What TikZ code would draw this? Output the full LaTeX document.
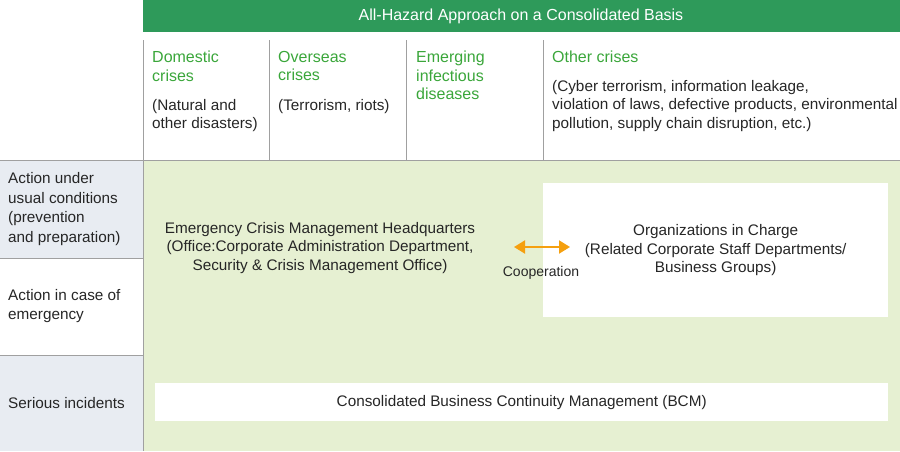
\documentclass[tikz,border=0pt]{standalone}
\usepackage{fontspec}
\setmainfont{Liberation Sans}
\usetikzlibrary{arrows.meta}
\definecolor{banner}{HTML}{2E9A5A}
\definecolor{gtext}{HTML}{3AA63A}
\definecolor{lgreen}{HTML}{E6F0D2}
\definecolor{lblue}{HTML}{E8ECF2}
\definecolor{lin}{HTML}{A0A0A0}
\definecolor{orng}{HTML}{F5A00F}
\begin{document}
\begin{tikzpicture}[x=1pt,y=-1pt,
  every node/.style={font=\fontsize{15.3}{18.5}\selectfont,text=black!85,inner sep=0pt},
  head/.style={anchor=north west,align=left,text=gtext,font=\fontsize{16}{18.5}\selectfont},
  sub/.style={anchor=north west,align=left},
  rowlab/.style={anchor=west,align=left,font=\fontsize{15.3}{19.5}\selectfont}]
\useasboundingbox (0,0) rectangle (900,451);
\fill[banner] (143,0) rectangle (900,32);
\node[text=white,font=\fontsize{16}{18}\selectfont] (ban) at (521,16) {All-Hazard Approach on a Consolidated Basis};
\fill[lgreen] (143,160) rectangle (900,451);
\fill[lblue] (0,160) rectangle (143,258);
\fill[lblue] (0,355) rectangle (143,451);
\draw[lin] (0,258) -- (143,258) (0,355) -- (143,355);
\draw[lin] (0,160) -- (900,160);
\foreach \x in {143,269,406,543} \draw[lin] (\x,40) -- (\x,160);
\draw[lin] (143,160) -- (143,451);
\node[head] (h1) at (152,51) {Domestic\\crises};
\node[sub] (s1) at (152,99) {(Natural and\\other disasters)};
\node[head] (h2) at (278,51) {Overseas\\crises};
\node[sub] (s2) at (278,99) {(Terrorism, riots)};
\node[head] (h3) at (416,51) {Emerging\\infectious\\diseases};
\node[head] (h4) at (552,51) {Other crises};
\node[sub] (s4) at (552,80) {(Cyber terrorism, information leakage,\\violation of laws, defective products, environmental\\pollution, supply chain disruption, etc.)};
\node[rowlab] (r1) at (8,209) {Action under\\usual conditions\\(prevention\\and preparation)};
\node[rowlab] (r2) at (8,306) {Action in case of\\emergency};
\node[rowlab] (r3) at (8,403) {Serious incidents};
\node[align=center] (hq) at (320,248) {Emergency Crisis Management Headquarters\\(Office:Corporate Administration Department,\\Security \& Crisis Management Office)};
\node[fill=white,minimum width=345,minimum height=134,anchor=north west] (org) at (543,183) {};
\node[align=center] at (org.center) {Organizations in Charge\\(Related Corporate Staff Departments/\\Business Groups)};
\coordinate (a1) at (514,247);
\coordinate (a2) at (570,247);
\draw[orng,line width=2pt,{Triangle[length=11pt,width=13pt]}-{Triangle[length=11pt,width=13pt]}] (a1) -- (a2);
\node (coop) at (541,273) {\fontsize{14}{16}\selectfont Cooperation};
\node[fill=white,minimum width=733,minimum height=38,anchor=north west] (bcm) at (155,383) {};
\node at (bcm.center) {Consolidated Business Continuity Management (BCM)};
\end{tikzpicture}
\end{document}
